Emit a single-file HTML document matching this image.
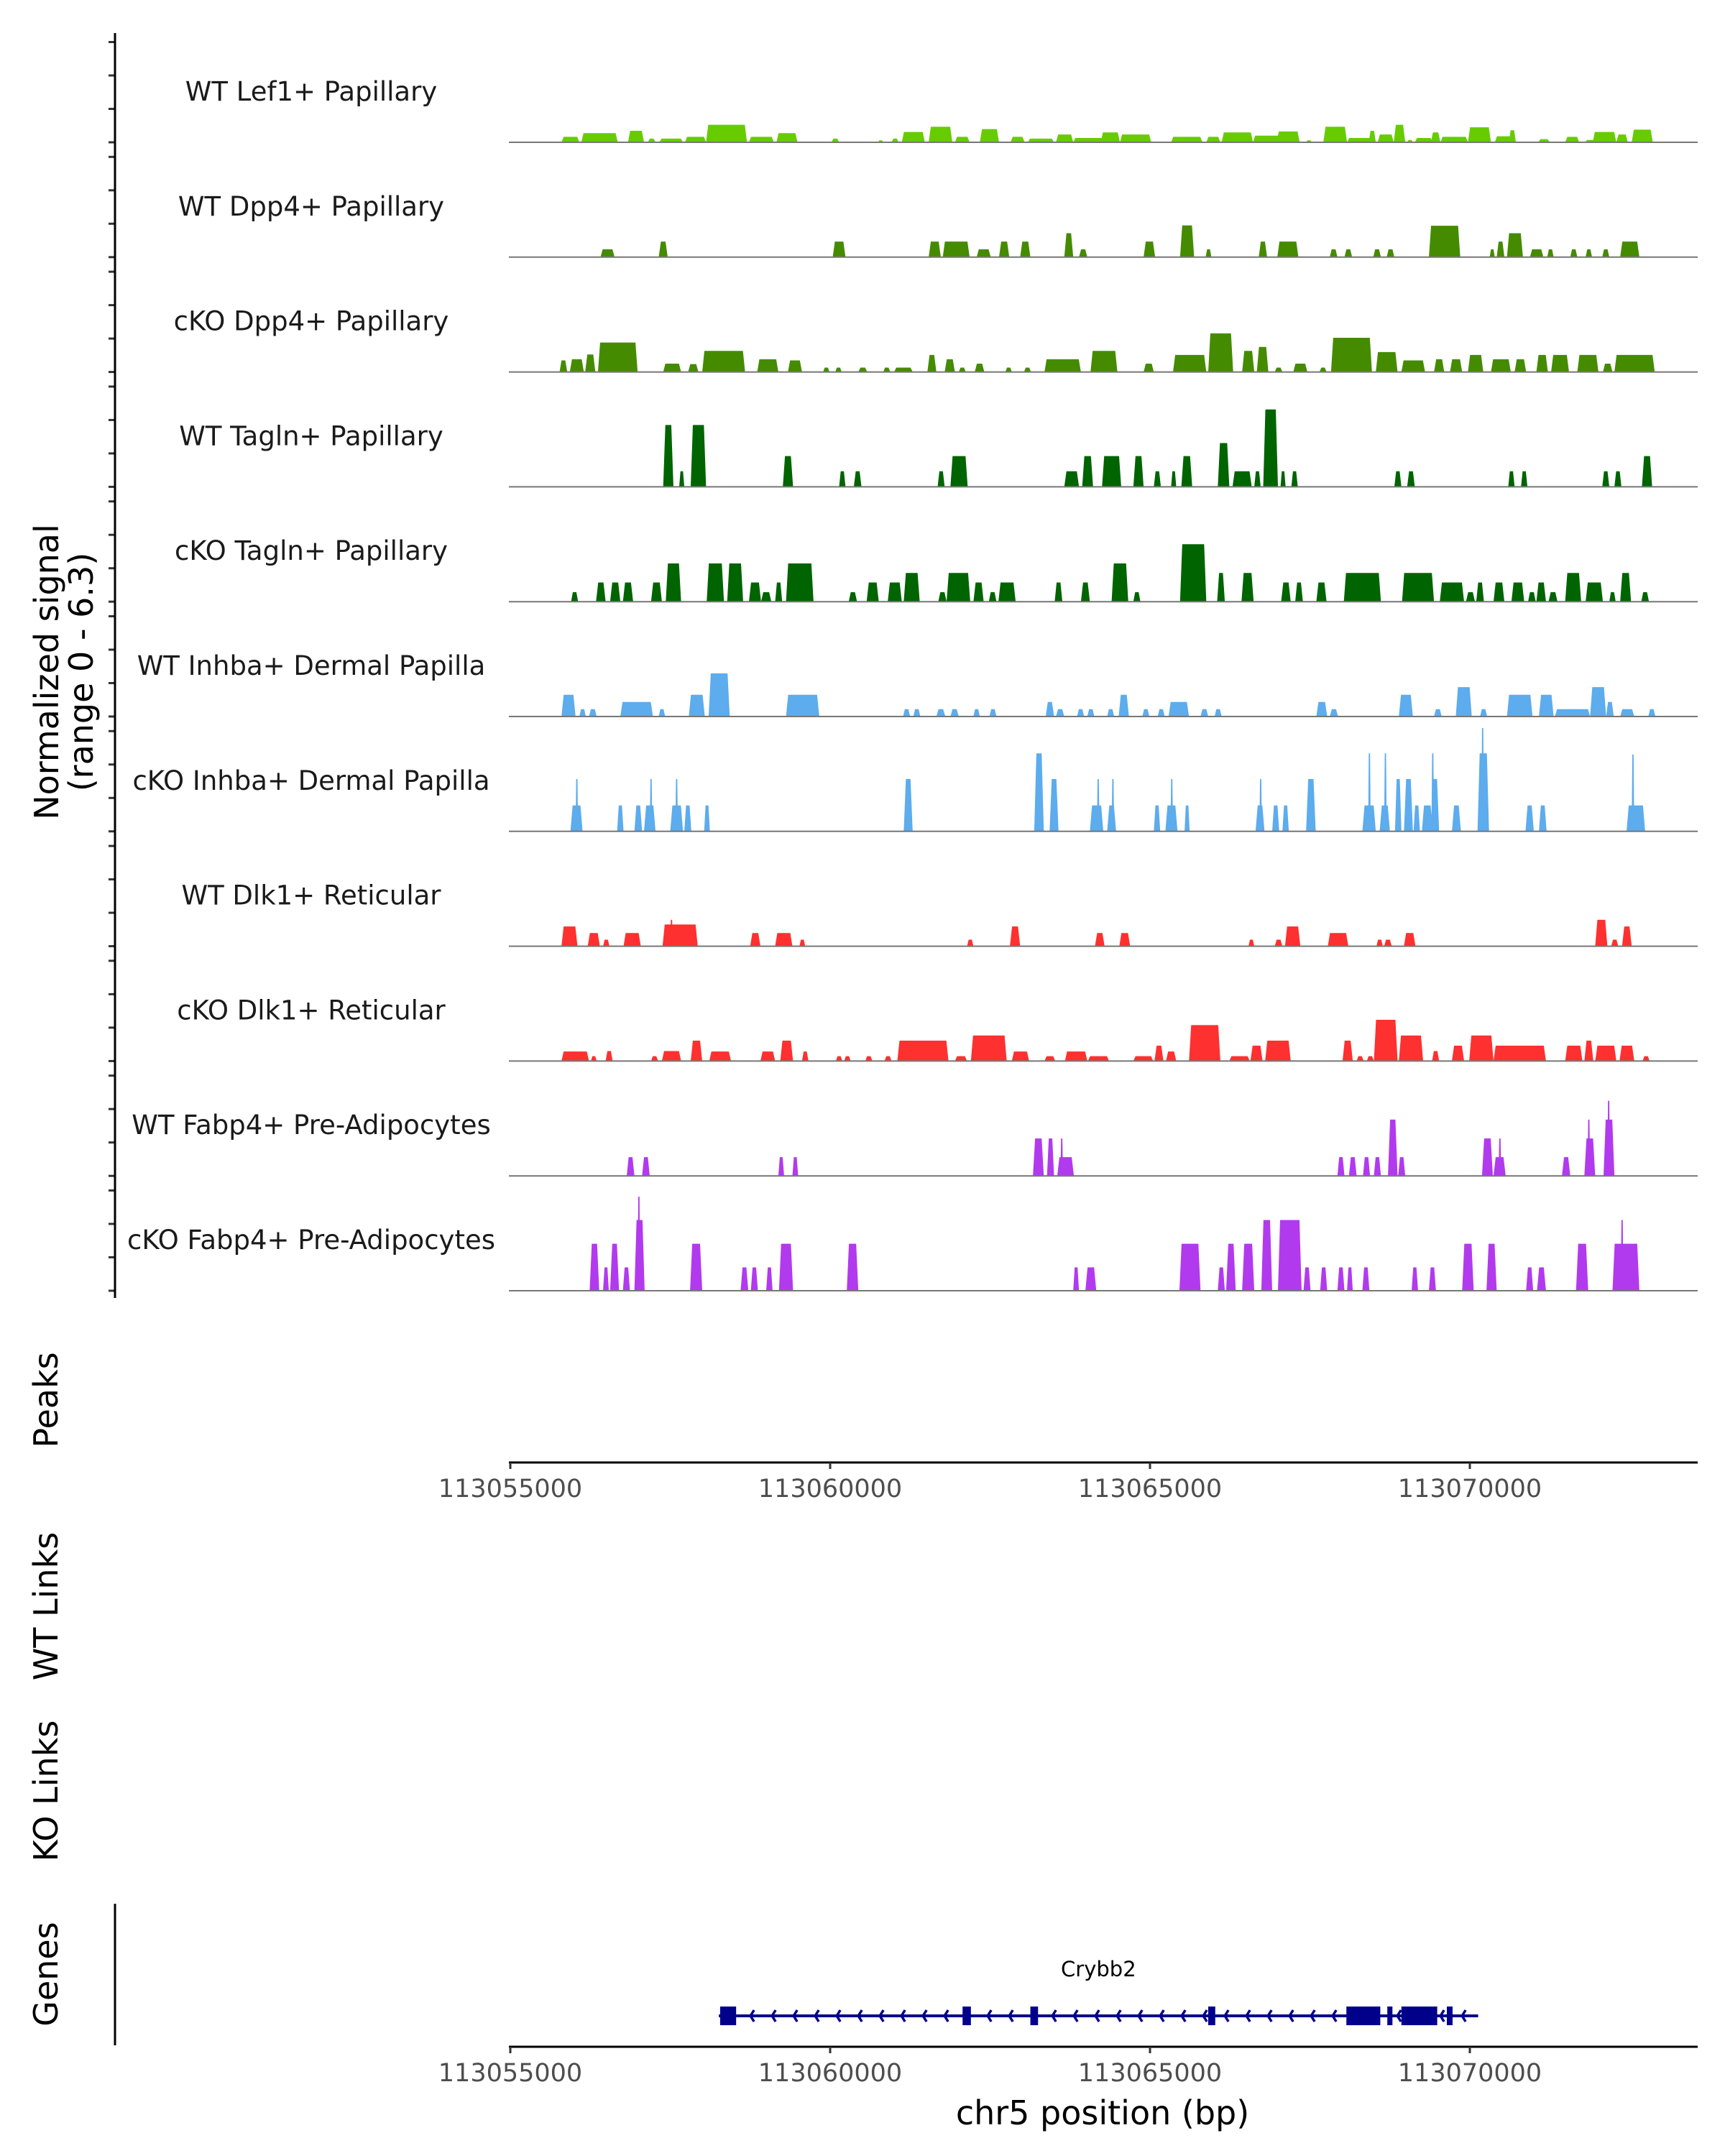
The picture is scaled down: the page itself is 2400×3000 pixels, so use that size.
<!DOCTYPE html>
<html><head><meta charset="utf-8"><style>
html,body{margin:0;padding:0;background:#fff;}
svg{display:block;font-family:"DejaVu Sans","Liberation Sans",sans-serif;}
</style></head>
<body>
<svg id="chart" width="2400" height="3000" viewBox="0 0 2400 3000" xmlns="http://www.w3.org/2000/svg">
<g id="tracks"></g>
<line x1="160" y1="46" x2="160" y2="1806" stroke="#000" stroke-width="3"/>
<line x1="160" y1="2649" x2="160" y2="2846" stroke="#000" stroke-width="3"/>
<text transform="translate(81,935) rotate(-90)" text-anchor="middle" font-size="46">Normalized signal</text>
<text transform="translate(129,935) rotate(-90)" text-anchor="middle" font-size="46">(range 0 - 6.3)</text>
<text transform="translate(80,1948) rotate(-90)" text-anchor="middle" font-size="46">Peaks</text>
<text transform="translate(80,2235) rotate(-90)" text-anchor="middle" font-size="46">WT Links</text>
<text transform="translate(80,2492) rotate(-90)" text-anchor="middle" font-size="46">KO Links</text>
<text transform="translate(80,2747) rotate(-90)" text-anchor="middle" font-size="46">Genes</text>
<g id="axes"></g>
<g id="gene"></g>
<text x="1534" y="2956" text-anchor="middle" font-size="46">chr5 position (bp)</text>
</svg>
<script>
const regionStart = 113055000;
const xTicksKb = [0, 5, 10, 15];
const xTickLabels = ["113055000", "113060000", "113065000", "113070000"];
const yTickValues = [0, 2, 4, 6];
const trackNames = ["WT Lef1+ Papillary","WT Dpp4+ Papillary","cKO Dpp4+ Papillary","WT Tagln+ Papillary","cKO Tagln+ Papillary","WT Inhba+ Dermal Papilla","cKO Inhba+ Dermal Papilla","WT Dlk1+ Reticular","cKO Dlk1+ Reticular","WT Fabp4+ Pre-Adipocytes","cKO Fabp4+ Pre-Adipocytes"];
const trackColors = ["#66CC00","#458B00","#458B00","#006400","#006400","#5CACEE","#5CACEE","#FF3030","#FF3030","#B23AEE","#B23AEE"];
// peaks: [start kb offset, end kb offset, signal]
const lef1WT = [[.80,1.08,.33],[1.11,1.68,.55],[1.84,2.09,.69],[2.15,2.27,.22],[2.33,2.70,.22],[2.73,3.06,.33],[3.06,3.70,1.05],[3.73,4.12,.33],[4.16,4.49,.55],[5.02,5.14,.22],[5.75,5.83,.12],[5.96,6.07,.22],[6.12,6.48,.62],[6.54,6.91,.93],[6.95,7.18,.33],[7.34,7.64,.79],[7.82,8.04,.33],[8.09,8.50,.22],[8.53,8.80,.47],[8.80,9.29,.26],[9.23,9.53,.59],[9.53,10.02,.47],[10.33,10.82,.33],[10.88,11.10,.33],[11.12,11.61,.59],[11.61,12.10,.40],[11.98,12.34,.65],[12.44,12.53,.12],[12.71,13.08,.93],[13.08,13.50,.26],[13.42,13.53,.69],[13.56,13.81,.47],[13.81,13.99,1.05],[14.02,14.11,.14],[14.14,14.42,.26],[14.39,14.54,.59],[14.54,14.97,.33],[14.97,15.33,.90],[15.39,15.70,.36],[15.61,15.72,.72],[16.07,16.25,.19],[16.49,16.71,.33],[16.80,16.98,.14],[16.92,17.29,.62],[17.29,17.47,.47],[17.53,17.86,.76]];
const dpp4WT = [[1.41,1.63,.47],[2.32,2.46,.93],[5.04,5.24,.93],[6.54,6.73,.93],[6.76,7.18,.93],[7.29,7.51,.47],[7.64,7.80,.93],[7.97,8.13,.93],[8.66,8.80,1.43],[8.89,9.02,.47],[9.90,10.08,.93],[10.47,10.69,1.9],[10.87,10.96,.47],[11.70,11.83,.93],[11.99,12.32,.93],[12.81,12.93,.47],[13.04,13.16,.47],[13.49,13.61,.47],[13.70,13.82,.47],[14.36,14.85,1.88],[15.31,15.39,.47],[15.42,15.54,.93],[15.58,15.83,1.43],[15.94,16.15,.47],[16.21,16.31,.47],[16.57,16.68,.47],[16.81,16.91,.47],[17.07,17.18,.47],[17.35,17.65,.93]];
const dpp4KO = [[.77,.89,.69],[.93,1.15,.76],[1.17,1.33,1.05],[1.37,1.99,1.76],[2.39,2.67,.5],[2.78,2.94,.47],[3.0,3.67,1.26],[3.86,4.19,.76],[4.34,4.56,.69],[4.89,4.99,.26],[5.08,5.18,.26],[5.44,5.58,.26],[5.83,5.94,.26],[6.00,6.29,.26],[6.52,6.66,1.02],[6.79,6.95,.76],[7.01,7.12,.26],[7.26,7.41,.5],[7.74,7.84,.26],[8.03,8.14,.26],[8.35,8.92,.76],[9.07,9.49,1.26],[9.90,10.06,.5],[10.36,10.88,1.02],[10.91,11.30,2.31],[11.44,11.63,1.26],[11.67,11.85,1.5],[11.95,12.07,.26],[12.24,12.46,.5],[12.65,12.76,.26],[12.83,13.47,2.05],[13.53,13.87,1.19],[13.93,14.30,.69],[14.44,14.60,.76],[14.69,14.88,.76],[14.97,15.21,1.02],[15.33,15.64,.76],[15.70,15.88,.76],[16.04,16.22,1.02],[16.27,16.55,1.02],[16.68,17.01,1.02],[17.08,17.23,.5],[17.26,17.89,1.02]];
const taglnWT = [[2.39,2.55,3.7],[2.64,2.72,.93],[2.82,3.06,3.7],[4.26,4.42,1.84],[5.14,5.24,.93],[5.37,5.49,.93],[6.68,6.79,.93],[6.88,7.15,1.84],[8.66,8.89,.93],[8.94,9.11,1.84],[9.25,9.55,1.84],[9.74,9.90,1.84],[10.06,10.17,.93],[10.33,10.41,.93],[10.49,10.66,1.84],[11.06,11.24,2.62],[11.29,11.59,.93],[11.63,11.73,.93],[11.77,12.00,4.63],[12.04,12.12,.93],[12.21,12.31,.93],[13.82,13.93,.93],[14.02,14.14,.93],[15.60,15.70,.93],[15.80,15.90,.93],[17.07,17.18,.93],[17.26,17.37,.93],[17.69,17.85,1.84]];
const taglnKO = [[.95,1.06,.57],[1.34,1.49,1.15],[1.56,1.72,1.15],[1.76,1.92,1.15],[2.20,2.37,1.15],[2.43,2.67,2.29],[3.07,3.34,2.29],[3.39,3.64,2.29],[3.73,3.92,1.15],[3.92,4.08,.57],[4.14,4.25,1.15],[4.31,4.74,2.29],[5.29,5.42,.57],[5.57,5.76,1.15],[5.90,6.12,1.15],[6.15,6.40,1.72],[6.69,6.82,.57],[6.82,7.19,1.72],[7.24,7.40,1.15],[7.48,7.60,.57],[7.63,7.90,1.15],[8.51,8.63,1.15],[8.92,9.06,1.15],[9.40,9.66,2.29],[9.74,9.85,.57],[10.47,10.88,3.44],[11.05,11.17,1.72],[11.43,11.62,1.72],[12.05,12.20,1.15],[12.27,12.39,1.15],[12.60,12.76,1.15],[13.03,13.61,1.72],[13.94,14.44,1.72],[14.53,14.91,1.15],[14.94,15.08,.57],[15.10,15.22,1.15],[15.37,15.54,1.15],[15.65,15.85,1.15],[15.91,16.03,.57],[16.04,16.19,1.15],[16.23,16.37,.57],[16.49,16.74,1.72],[16.81,17.08,1.15],[17.18,17.28,.57],[17.35,17.52,1.72],[17.68,17.80,.57]];
const inhbaWT = [[.80,1.02,1.3],[1.08,1.18,.44],[1.23,1.35,.44],[1.72,2.23,.87],[2.32,2.42,.44],[2.79,3.04,1.3],[3.10,3.43,2.58],[4.31,4.83,1.3],[6.14,6.25,.44],[6.30,6.41,.44],[6.66,6.80,.44],[6.88,7.01,.44],[7.24,7.34,.44],[7.49,7.60,.44],[8.37,8.50,.87],[8.53,8.66,.44],[8.86,8.97,.44],[9.02,9.13,.44],[9.33,9.44,.44],[9.51,9.67,1.3],[9.88,9.99,.44],[10.12,10.23,.44],[10.29,10.61,.87],[10.79,10.91,.44],[11.01,11.12,.44],[12.60,12.77,.87],[12.81,12.94,.44],[13.89,14.11,1.3],[14.44,14.56,.44],[14.78,15.03,1.76],[15.16,15.27,.44],[15.58,15.98,1.3],[16.08,16.31,1.3],[16.33,16.88,.44],[16.88,17.13,1.76],[17.13,17.25,.87],[17.35,17.57,.44],[17.79,17.90,.44]];
const inhbaKO = [[.94,1.13,1.55],[1.02,1.06,3.13],[1.67,1.77,1.55],[1.94,2.06,1.55],[2.09,2.27,1.55],[2.18,2.22,3.13],[2.50,2.70,1.55],[2.58,2.62,3.13],[2.72,2.83,1.55],[3.03,3.12,1.55],[6.15,6.29,3.13],[8.19,8.34,4.67],[8.43,8.57,3.13],[9.06,9.27,1.55],[9.17,9.21,3.13],[9.33,9.47,1.55],[9.40,9.44,3.13],[10.06,10.16,1.55],[10.24,10.43,1.55],[10.32,10.36,3.13],[10.54,10.62,1.55],[11.65,11.79,1.55],[11.71,11.75,3.13],[11.91,12.02,1.55],[12.07,12.17,1.55],[12.44,12.59,3.13],[13.32,13.53,1.55],[13.41,13.45,4.67],[13.59,13.75,1.55],[13.66,13.70,4.67],[13.83,13.93,3.13],[13.97,14.11,3.13],[14.12,14.22,1.55],[14.25,14.42,1.55],[14.39,14.52,3.13],[14.40,14.44,4.67],[14.72,14.86,1.55],[15.12,15.30,4.67],[15.18,15.22,6.18],[15.87,16.00,1.55],[16.08,16.20,1.55],[17.45,17.74,1.55],[17.53,17.57,4.6]];
const dlk1WT = [[.80,1.05,1.18],[1.21,1.40,.79],[1.45,1.55,.39],[1.77,2.04,.79],[2.38,2.93,1.3],[2.50,2.54,1.58],[3.75,3.91,.79],[4.14,4.41,.79],[4.52,4.61,.39],[7.14,7.24,.39],[7.81,7.97,1.18],[9.14,9.29,.79],[9.52,9.69,.79],[11.54,11.63,.39],[11.95,12.07,.39],[12.11,12.35,1.18],[12.78,13.10,.79],[13.54,13.64,.39],[13.66,13.78,.39],[13.97,14.15,.79],[16.96,17.15,1.58],[17.21,17.32,.39],[17.38,17.53,1.18]];
const dlk1KO = [[.80,1.23,.57],[1.26,1.35,.29],[1.49,1.60,.6],[2.20,2.31,.29],[2.37,2.67,.6],[2.82,3.0,1.22],[3.11,3.45,.57],[3.91,4.14,.57],[4.22,4.42,1.22],[4.56,4.66,.57],[5.09,5.19,.29],[5.22,5.32,.29],[5.55,5.66,.29],[5.85,5.96,.29],[6.05,6.85,1.22],[6.95,7.14,.29],[7.20,7.76,1.53],[7.84,8.11,.57],[8.35,8.52,.29],[8.67,9.02,.57],[9.03,9.36,.29],[9.74,10.05,.29],[10.07,10.21,.92],[10.25,10.41,.57],[10.61,11.10,2.15],[11.24,11.56,.29],[11.57,11.76,.92],[11.80,12.20,1.22],[13.01,13.17,1.22],[13.23,13.34,.29],[13.39,13.50,.29],[13.50,13.87,2.47],[13.89,14.27,1.53],[14.41,14.52,.6],[14.72,14.91,.92],[14.99,15.37,1.53],[15.37,16.19,.92],[16.49,16.76,.92],[16.79,16.93,1.22],[16.96,17.29,.92],[17.34,17.57,.92],[17.70,17.81,.29]];
const fabp4WT = [[1.82,1.94,1.12],[2.06,2.18,1.12],[4.19,4.28,1.12],[4.41,4.50,1.12],[8.17,8.34,2.24],[8.39,8.50,2.24],[8.55,8.81,1.12],[8.60,8.64,2.24],[12.93,13.04,1.12],[13.11,13.23,1.12],[13.33,13.44,1.12],[13.50,13.61,1.12],[13.72,13.87,3.37],[13.88,13.99,1.12],[15.19,15.36,2.24],[15.37,15.56,1.12],[15.45,15.49,2.24],[16.44,16.57,1.12],[16.79,16.96,2.24],[16.84,16.88,3.37],[17.09,17.26,3.37],[17.15,17.19,4.49]];
const fabp4KO = [[1.24,1.39,2.81],[1.45,1.54,1.4],[1.56,1.70,2.81],[1.76,1.87,1.4],[1.94,2.10,4.23],[1.99,2.03,5.63],[2.81,3.0,2.81],[3.60,3.72,1.4],[3.76,3.87,1.4],[4.00,4.10,1.4],[4.20,4.42,2.81],[5.26,5.44,2.81],[8.80,8.89,1.4],[8.99,9.16,1.4],[10.46,10.79,2.81],[11.06,11.17,1.4],[11.19,11.34,2.81],[11.44,11.63,2.81],[11.74,11.91,4.23],[12.00,12.37,4.23],[12.40,12.51,1.4],[12.66,12.77,1.4],[12.93,13.04,1.4],[13.08,13.17,1.4],[13.32,13.43,1.4],[14.09,14.19,1.4],[14.36,14.47,1.4],[14.88,15.06,2.81],[15.26,15.42,2.81],[15.88,15.99,1.4],[16.05,16.19,1.4],[16.66,16.85,2.81],[17.23,17.65,2.81],[17.36,17.40,4.23]];
const trackData = [lef1WT, dpp4WT, dpp4KO, taglnWT, taglnKO, inhbaWT, inhbaKO, dlk1WT, dlk1KO, fabp4WT, fabp4KO];
// gene model (kb offsets)
const geneName = "Crybb2";
const geneSpan = [3.26, 15.13];
const geneExons = [[3.28,3.53],[7.07,7.20],[8.13,8.25],[10.91,11.02],[13.07,13.60],[13.71,13.79],[13.93,14.49],[14.64,14.73]];

const NS = "http://www.w3.org/2000/svg";
const xMin = 708, xMax = 2362, pxPerKb = 89.0, x0 = 710;
const yMax = 6.3, unitPx = 23.25;
function xs(kb){ return x0 + kb * pxPerKb; }
function baseY(i){ return 198 + i * 159.8; }
function ys(i, v){ return baseY(i) - v * unitPx; }
function mk(tag, attrs, parent){ const e = document.createElementNS(NS, tag); for (const k in attrs) e.setAttribute(k, attrs[k]); parent.appendChild(e); return e; }

const tracks = document.getElementById("tracks");
trackData.forEach((peaks, i) => {
  const g = mk("g", {}, tracks);
  
  
  const lbl = mk("text", {x: 433, y: baseY(i) - 58, "text-anchor": "middle", "font-size": 37, fill: "#1a1a1a"}, g);
  lbl.textContent = trackNames[i];
  
  
  peaks.forEach(p => {
    const a = xs(p[0]), b = xs(p[1]);
    const w = b - a;
    const s = Math.min(w * 0.25, 3);
    const yb = baseY(i), yt = ys(i, Math.min(p[2], yMax));
    const poly = mk("polygon", {points: `${a},${yb} ${a + s},${yt} ${b - s},${yt} ${b},${yb}`, fill: trackColors[i]}, g);
    
    
  });
  const bl = mk("line", {x1: xMin, x2: xMax, y1: baseY(i), y2: baseY(i), stroke: "#777", "stroke-width": 2}, g);
  
  
  yTickValues.forEach(v => {
    const t = mk("line", {x1: 151, x2: 160, y1: ys(i, v), y2: ys(i, v), stroke: "#333", "stroke-width": 3}, g);
    
    
  });
});

const axes = document.getElementById("axes");
[2035, 2848].forEach((ay, k) => {
  const l = mk("line", {x1: xMin, x2: xMax, y1: ay, y2: ay, stroke: "#000", "stroke-width": 3}, axes);
  
  
  xTicksKb.forEach((kb, j) => {
    const t = mk("line", {x1: xs(kb), x2: xs(kb), y1: ay, y2: ay + 9, stroke: "#333", "stroke-width": 3}, axes);
    
    
    const tl = mk("text", {x: xs(kb), y: ay + 48, "text-anchor": "middle", "font-size": 35, fill: "#4d4d4d"}, axes);
    tl.textContent = xTickLabels[j];
    
    
  });
});

const gg = document.getElementById("gene");
const gy = 2805, col = "#00008B";
const gl = mk("line", {x1: xs(geneSpan[0]), x2: xs(geneSpan[1]), y1: gy, y2: gy, stroke: col, "stroke-width": 4}, gg);


for (let x = xs(geneSpan[0]) + 14; x < xs(geneSpan[1]) - 4; x += 30) {
  const ch = mk("polyline", {points: `${x + 5},${gy - 8} ${x},${gy} ${x + 5},${gy + 8}`, fill: "none", stroke: col, "stroke-width": 3.5}, gg);
  
  
}
geneExons.forEach(e => {
  const r = mk("rect", {x: xs(e[0]), y: gy - 13, width: xs(e[1]) - xs(e[0]), height: 26, fill: col}, gg);
  
  
});
const gn = mk("text", {x: (xs(geneSpan[0]) + xs(geneSpan[1])) / 2, y: 2750, "text-anchor": "middle", "font-size": 29, fill: "#000"}, gg);
gn.textContent = geneName;


</script>
</body></html>
